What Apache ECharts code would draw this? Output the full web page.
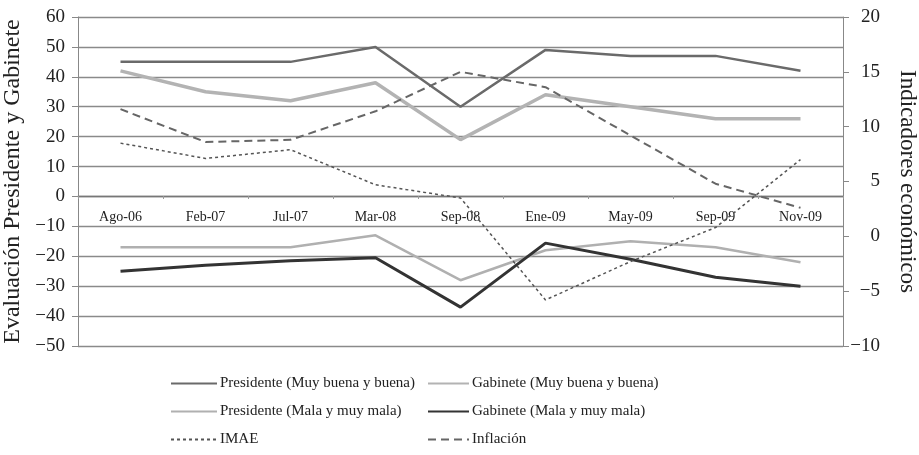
<!DOCTYPE html>
<html>
<head>
<meta charset="utf-8">
<script src="https://cdn.jsdelivr.net/npm/echarts@6/dist/echarts.min.js"></script>
<style>
  html, body { margin: 0; padding: 0; background: #fff; }
  #chart { width: 919px; height: 455px; }
</style>
</head>
<body>
<div id="chart"></div>
<script>
const categories = ['Ago-06', 'Feb-07', 'Jul-07', 'Mar-08', 'Sep-08', 'Ene-09', 'May-09', 'Sep-09', 'Nov-09'];

const presBuena = [45, 45, 45, 50, 30, 49, 47, 47, 42];
const gabBuena = [42, 35, 32, 38, 19, 34, 30, 26, 26];
const presMala = [-17, -17, -17, -13, -28, -18, -15, -17, -22];
const gabMala = [-25, -23, -21.5, -20.5, -37, -15.6, -21, -27, -30];
const imae = [8.5, 7.1, 7.9, 4.7, 3.5, -5.8, -2.3, 0.8, 7.0];
const inflacion = [11.6, 8.6, 8.8, 11.4, 15.0, 13.6, 9.2, 4.8, 2.6];

const serif = 'Liberation Serif';

const chart = echarts.init(document.getElementById('chart'));

function line(name, data, color, width, type, yIdx) {
  return {
    name: name,
    type: 'line',
    data: data,
    yAxisIndex: yIdx,
    symbol: 'none',
    lineStyle: { color: color, width: width, type: type },
    itemStyle: { color: color }
  };
}

const minus = v => v < 0 ? '\u2212' + Math.abs(v) : String(v);

const legendBase = {
  orient: 'vertical', top: 371, itemGap: 13,
  itemHeight: 14,
  itemStyle: { opacity: 0 },
  textStyle: { fontFamily: serif, fontSize: 15, color: '#222', padding: [0, 0, 0, -2] }
};

// grid height 329px for 110 units, zero sits 60 units below the top
const gridTop = 17, gridBottom = 109, gridH = 455 - gridTop - gridBottom;
const zeroOffset = -Math.round(gridH * 50 / 110);

const option = {
  animation: false,
  backgroundColor: '#fff',
  grid: { left: 78, right: 76, top: gridTop, bottom: gridBottom, outerBoundsMode: 'none' },
  legend: [
    Object.assign({}, legendBase, {
      left: 165, itemWidth: 46,
      data: ['Presidente (Muy buena y buena)', 'Presidente (Mala y muy mala)', 'IMAE']
    }),
    Object.assign({}, legendBase, {
      left: 422, itemWidth: 41,
      data: ['Gabinete (Muy buena y buena)', 'Gabinete (Mala y muy mala)', 'Inflación']
    })
  ],
  xAxis: {
    type: 'category',
    data: categories,
    boundaryGap: true,
    position: 'bottom',
    offset: zeroOffset,
    axisLine: { onZero: false, lineStyle: { color: '#777', width: 1.3 } },
    axisTick: { show: true, length: 3, lineStyle: { color: '#999' } },
    axisLabel: { fontFamily: serif, fontSize: 14, color: '#222', margin: 14 }
  },
  yAxis: [
    {
      type: 'value',
      min: -50, max: 60, interval: 10,
      name: 'Evaluación Presidente y Gabinete',
      nameLocation: 'middle',
      nameGap: 49,
      nameTextStyle: { fontFamily: serif, fontSize: 24, color: '#222' },
      axisLine: { show: true, lineStyle: { color: '#888' } },
      axisTick: { show: true, length: 6, lineStyle: { color: '#888' } },
      axisLabel: { fontFamily: serif, fontSize: 19, color: '#222', margin: 13, formatter: minus },
      splitLine: { show: true, lineStyle: { color: '#8a8a8a', width: 1.3 } }
    },
    {
      type: 'value',
      position: 'right',
      min: -10, max: 20, interval: 5,
      name: 'Indicadores económicos',
      nameLocation: 'middle',
      nameRotate: -90,
      nameGap: 53,
      nameTextStyle: { fontFamily: serif, fontSize: 23, color: '#222' },
      axisLine: { show: true, lineStyle: { color: '#888' } },
      axisTick: { show: true, length: 6, lineStyle: { color: '#888' } },
      axisLabel: { fontFamily: serif, fontSize: 19, color: '#222', margin: 37, align: 'right', formatter: minus },
      splitLine: { show: false }
    }
  ],
  series: [
    line('Presidente (Muy buena y buena)', presBuena, '#6a6a6a', 2.5, 'solid', 0),
    line('Gabinete (Muy buena y buena)', gabBuena, '#b3b3b3', 3.5, 'solid', 0),
    line('Presidente (Mala y muy mala)', presMala, '#b0b0b0', 2.5, 'solid', 0),
    line('Gabinete (Mala y muy mala)', gabMala, '#333333', 3, 'solid', 0),
    line('IMAE', imae, '#555555', 1.5, [3, 3], 1),
    line('Inflación', inflacion, '#666666', 2, [8, 5], 1)
  ]
};

chart.setOption(option);
</script>
</body>
</html>
